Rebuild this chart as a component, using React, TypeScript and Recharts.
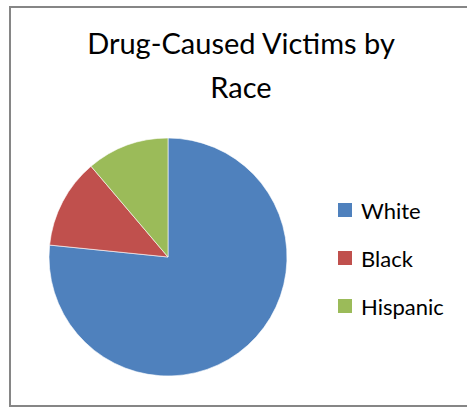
import { Cell, Legend, Pie, PieChart } from "recharts"

const RACES = ["White", "Black", "Hispanic"]
const SHARES = [76.6, 12.2, 11.2]
const COLORS = ["#4F81BD", "#C0504D", "#9BBB59"]

const data = RACES.map((name, i) => ({ name, value: SHARES[i] }))

const FONT = "Lato, 'Open Sans', sans-serif"

function LegendBox() {
  return (
    <div style={{ fontFamily: FONT }}>
      {RACES.map((r, i) => (
        <div key={r} style={{ display: "flex", alignItems: "center", height: 48 }}>
          <span style={{ width: 14, height: 14, background: COLORS[i], marginRight: 9 }} />
          <span style={{ fontSize: 22, color: "#000" }}>{r}</span>
        </div>
      ))}
    </div>
  )
}

export default function App() {
  return (
    <div style={{ position: "fixed", left: 0, top: 0, width: 467, height: 408, background: "#fff", overflow: "hidden" }}>
      <div
        style={{
          position: "absolute",
          left: 9,
          top: 6,
          width: 470,
          height: 397,
          border: "2px solid #868686",
        }}
      />
      <div
        style={{
          position: "absolute",
          left: 10,
          width: 462,
          top: 21,
          textAlign: "center",
          fontFamily: FONT,
          fontSize: 29,
          lineHeight: "44px",
          color: "#000",
        }}
      >
        Drug-Caused Victims by
        <br />
        Race
      </div>
      <div style={{ position: "absolute", left: 0, top: 0 }}>
        <PieChart width={467} height={408} margin={{ top: 0, right: 0, bottom: 0, left: 0 }}>
          <Pie
            data={data}
            dataKey="value"
            nameKey="name"
            cx={168}
            cy={257}
            outerRadius={119}
            startAngle={90}
            endAngle={-270}
            stroke="#fff"
            strokeWidth={0.6}
            isAnimationActive={false}
          >
            {data.map((d, i) => (
              <Cell key={d.name} fill={COLORS[i]} />
            ))}
          </Pie>
          <Legend
            layout="vertical"
            content={<LegendBox />}
            wrapperStyle={{ position: "absolute", left: 338, top: 186, width: 130 }}
          />
        </PieChart>
      </div>
    </div>
  )
}
